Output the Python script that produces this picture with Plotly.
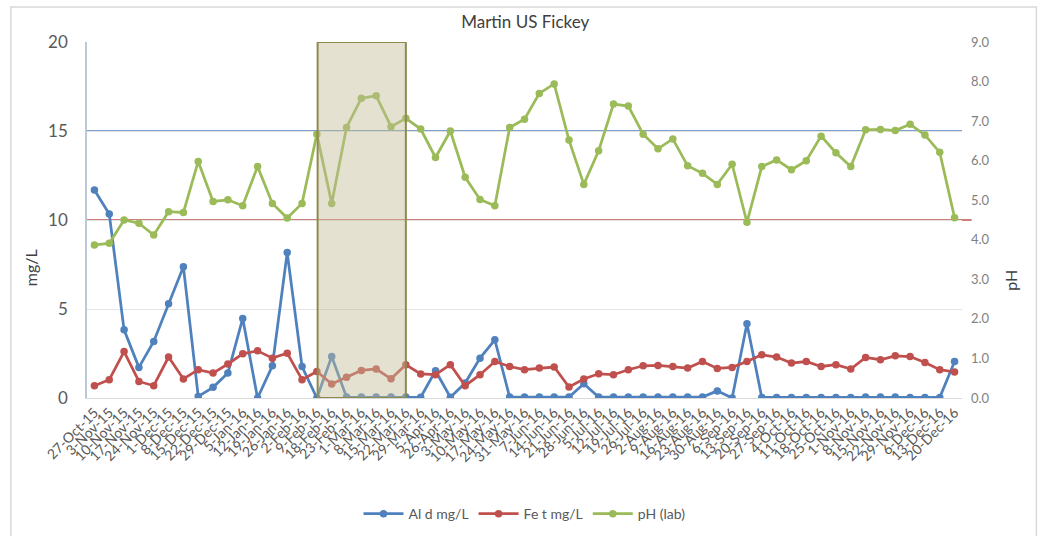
import plotly.graph_objects as go

dates = ["27-Oct-15", "3-Nov-15", "10-Nov-15", "17-Nov-15", "24-Nov-15", "1-Dec-15", "8-Dec-15",
         "15-Dec-15", "22-Dec-15", "29-Dec-15", "5-Jan-16", "12-Jan-16", "19-Jan-16", "26-Jan-16",
         "2-Feb-16", "9-Feb-16", "18-Feb-16", "23-Feb-16", "1-Mar-16", "8-Mar-16", "15-Mar-16",
         "22-Mar-16", "29-Mar-16", "5-Apr-16", "26-Apr-16", "3-May-16", "10-May-16", "17-May-16",
         "24-May-16", "31-May-16", "7-Jun-16", "14-Jun-16", "21-Jun-16", "28-Jun-16", "5-Jul-16",
         "12-Jul-16", "19-Jul-16", "26-Jul-16", "2-Aug-16", "9-Aug-16", "16-Aug-16", "23-Aug-16",
         "30-Aug-16", "6-Sep-16", "13-Sep-16", "20-Sep-16", "27-Sep-16", "4-Oct-16", "11-Oct-16",
         "18-Oct-16", "25-Oct-16", "1-Nov-16", "8-Nov-16", "15-Nov-16", "22-Nov-16", "29-Nov-16",
         "6-Dec-16", "13-Dec-16", "20-Dec-16"]

al_d = [11.68, 10.34, 3.83, 1.72, 3.18, 5.29, 7.38, 0.09, 0.6, 1.40,
        4.47, 0.0, 1.81, 8.17, 1.77, 0.0, 2.33, 0.05, 0.05, 0.05,
        0.05, 0.05, 0.04, 1.53, 0.04, 0.84, 2.24, 3.27, 0.05, 0.05,
        0.05, 0.05, 0.05, 0.80, 0.05, 0.05, 0.05, 0.05, 0.05, 0.05,
        0.05, 0.05, 0.40, 0.0, 4.17, 0.03, 0.03, 0.03, 0.03, 0.03,
        0.03, 0.03, 0.05, 0.05, 0.05, 0.03, 0.03, 0.03, 2.05]

fe_t = [0.69, 1.03, 2.61, 0.93, 0.69, 2.30, 1.07, 1.59, 1.40, 1.91,
        2.48, 2.65, 2.24, 2.52, 1.03, 1.49, 0.79, 1.16, 1.55, 1.63,
        1.08, 1.87, 1.35, 1.31, 1.87, 0.69, 1.31, 2.05, 1.77, 1.59,
        1.68, 1.74, 0.62, 1.07, 1.36, 1.31, 1.59, 1.81, 1.83, 1.77,
        1.68, 2.05, 1.66, 1.72, 2.05, 2.43, 2.30, 1.96, 2.05, 1.77,
        1.87, 1.63, 2.28, 2.15, 2.37, 2.33, 2.00, 1.59, 1.46]

ph_lab = [3.87, 3.91, 4.50, 4.42, 4.12, 4.71, 4.69, 5.98, 4.97, 5.01,
          4.86, 5.85, 4.92, 4.55, 4.92, 6.67, 4.92, 6.84, 7.58, 7.64,
          6.86, 7.07, 6.80, 6.08, 6.75, 5.58, 5.02, 4.86, 6.84, 7.05,
          7.70, 7.94, 6.52, 5.40, 6.25, 7.43, 7.38, 6.67, 6.30, 6.55,
          5.87, 5.68, 5.40, 5.91, 4.44, 5.85, 6.02, 5.77, 6.00, 6.62,
          6.20, 5.85, 6.78, 6.79, 6.76, 6.92, 6.65, 6.21, 4.56]

limit_upper = 15
limit_lower = 10
box_start, box_end = 15.05, 21.0

BLUE = "#4F81BD"
RED = "#C0504D"
GREEN = "#9BBB59"
FONT = "Lato"

fig = go.Figure()
for name, vals, col, ax in [("Al d mg/L", al_d, BLUE, "y"),
                             ("Fe t mg/L", fe_t, RED, "y"),
                             ("pH (lab)", ph_lab, GREEN, "y2")]:
    fig.add_trace(go.Scatter(x=dates, y=vals, name=name, yaxis=ax, mode="lines+markers",
                             line=dict(color=col, width=2.75),
                             marker=dict(color=col, size=7.5)))

shapes = [
    dict(type="line", xref="paper", yref="y", x0=0, x1=1.0, y0=limit_upper, y1=limit_upper,
         line=dict(color=BLUE, width=1.5), layer="between"),
    dict(type="line", xref="paper", yref="y", x0=0, x1=1.011, y0=limit_lower, y1=limit_lower,
         line=dict(color=RED, width=1.5), layer="between"),
    dict(type="rect", xref="x", yref="y", x0=box_start, x1=box_end, y0=0, y1=20,
         fillcolor="rgba(196,189,151,0.45)", line=dict(color="#8E8A4E", width=2), layer="above"),
    dict(type="rect", xref="paper", yref="paper", x0=-0.087, x1=1.085, y0=-0.45, y1=1.098,
         line=dict(color="#D9D9D9", width=1.5), fillcolor="rgba(0,0,0,0)"),
]

fig.update_layout(
    width=1040, height=536,
    margin=dict(l=87, r=78, t=42, b=138, autoexpand=False),
    paper_bgcolor="white", plot_bgcolor="white",
    font=dict(family=FONT, color="#595959"),
    title=dict(text="Martin US Fickey", x=0.505, xanchor="center", y=0.958, yanchor="middle",
               font=dict(size=17, color="#404040", family=FONT)),
    showlegend=True,
    legend=dict(orientation="h", x=0.5, xanchor="center", y=-0.326, yanchor="middle",
                font=dict(size=14, color="#595959"), itemwidth=40, tracegroupgap=0),
    shapes=shapes,
    xaxis=dict(type="category", range=[-0.5, len(dates) - 0.5], tickangle=-45, automargin=False,
               tickmode="linear", tick0=0, dtick=1,
               tickfont=dict(size=14, color="#595959"), showgrid=False,
               showline=True, linecolor="#D9D9D9", linewidth=1, ticks="", zeroline=False),
    yaxis=dict(range=[0, 20], dtick=5, showgrid=True, gridcolor="#E4E4E4", gridwidth=1,
               showline=True, linecolor="#BCC8DA", linewidth=1.5, zeroline=False, automargin=False,
               tickfont=dict(size=17, color="#595959"), ticklabelstandoff=14),
    yaxis2=dict(range=[0, 9], dtick=1, tickformat=".1f", overlaying="y", side="right",
                showgrid=False, zeroline=False, showline=False, automargin=False,
                tickfont=dict(size=13, color="#7F7F7F"), ticklabelstandoff=8),
    annotations=[
        dict(text="mg/L", xref="paper", yref="paper", x=-0.065, y=0.365, textangle=-90,
             showarrow=False, font=dict(size=16, color="#404040"), xanchor="center", yanchor="middle"),
        dict(text="pH", xref="paper", yref="paper", x=1.055, y=0.33, textangle=-90,
             showarrow=False, font=dict(size=16, color="#404040"), xanchor="center", yanchor="middle"),
    ],
)

fig.write_html("out.html", config={"displayModeBar": False},
               post_script="document.body.style.margin='0';")
